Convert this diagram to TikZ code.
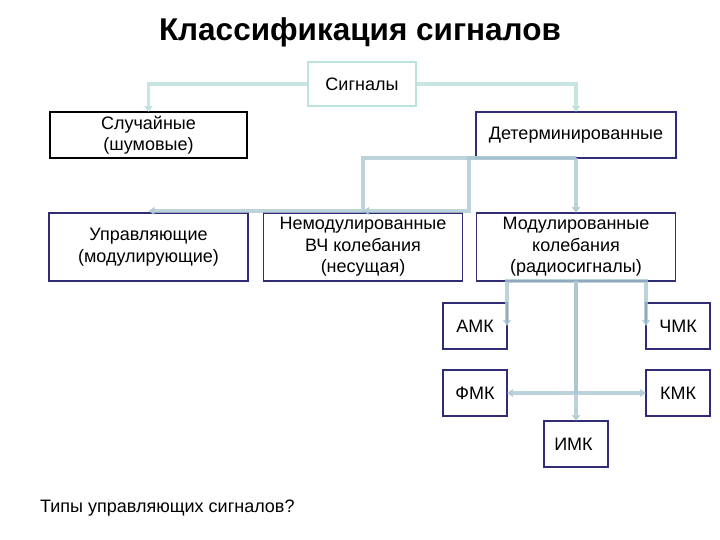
\documentclass[tikz,border=0pt]{standalone}
\usepackage{fontspec}
\setmainfont{Liberation Sans}
\usetikzlibrary{arrows.meta}

\definecolor{framenavy}{RGB}{48,44,118}
\definecolor{frameteal}{RGB}{190,226,220}
\definecolor{linkblue}{RGB}{172,200,210}
\definecolor{linkteal}{RGB}{185,222,218}

\begin{document}
\begin{tikzpicture}[
    x=1pt, y=-1pt,
    font=\fontsize{18}{21.5}\selectfont,
    box/.style={
      draw=framenavy,
      line width=1.5pt,
      align=center,
      inner sep=0pt,
      outer sep=0pt,
      fill=white,
    },
    rowbox/.style={
      box,
      minimum width=199pt,
      minimum height=68pt,
    },
    link/.style={
      draw=linkblue,
      opacity=0.8,
      line width=3.5pt,
      -{Triangle[length=6pt,width=8pt]},
    },
  ]
  \useasboundingbox (0,0) rectangle (720,540);

  \node[
    font = \bfseries\fontsize{31.5}{36}\selectfont,
  ] (title) at (360,32) {Классификация сигналов};

  % top levels
  \node[
    box,
    draw = frameteal,
    line width = 1.2pt,
    minimum width = 108pt,
    minimum height = 44pt,
  ] (sig) at (362,84) {Сигналы};
  \node[
    box,
    draw = black,
    line width = 1.8pt,
    minimum width = 197pt,
    minimum height = 46pt,
  ] (rand) at (148.5,135) {Случайные\\(шумовые)};
  \node[
    box,
    minimum width = 200pt,
    minimum height = 46pt,
  ] (det) at (576,135) {Детерминированные};

  % second row
  \node[rowbox] (ctrl) at (148.5,247) {Управляющие\\(модулирующие)};
  \node[rowbox] (carrier) at (363,247) {Немодулированные\\ВЧ колебания\\(несущая)};
  \node[rowbox] (mod) at (576,247) {Модулированные\\колебания\\(радиосигналы)};

  % kinds of modulation
  \foreach \name/\xc/\yc/\desc in {
    amk/475/326/АМК,
    chmk/678/326/ЧМК,
    fmk/475/393/ФМК,
    kmk/678/393/КМК,
    imk/576/444/ИМК
  }{
    \node[
      box,
      minimum width = 64pt,
      minimum height = 46pt,
    ] (\name) at (\xc,\yc) {\desc};
  }

  \node[anchor=west, inner sep=0pt] (question) at (40,508) {Типы управляющих сигналов?};

  % connectors
  \coordinate (j1) at (carrier.north |- det.south);
  \coordinate (j2) at ([xshift=-7pt]det.south west);

  \draw[link, draw=linkteal] (sig.west) -| (rand.north);
  \draw[link, draw=linkteal] (sig.east) -| (det.north);
  \draw[link] (det.south) -- (j1) |- ([yshift=2pt]ctrl.north);
  \draw[link] (det.south) -- (j2) |- ([yshift=2pt]carrier.north);
  \draw[link] (det.south) -- (mod.north);

  \draw[link] (mod.south) -| (amk.east);
  \draw[link] (mod.south) -| (chmk.west);
  \draw[link] (mod.south) |- (fmk.east);
  \draw[link] (mod.south) |- (kmk.west);
  \draw[link] (mod.south) -- (imk.north);

\end{tikzpicture}
\end{document}
